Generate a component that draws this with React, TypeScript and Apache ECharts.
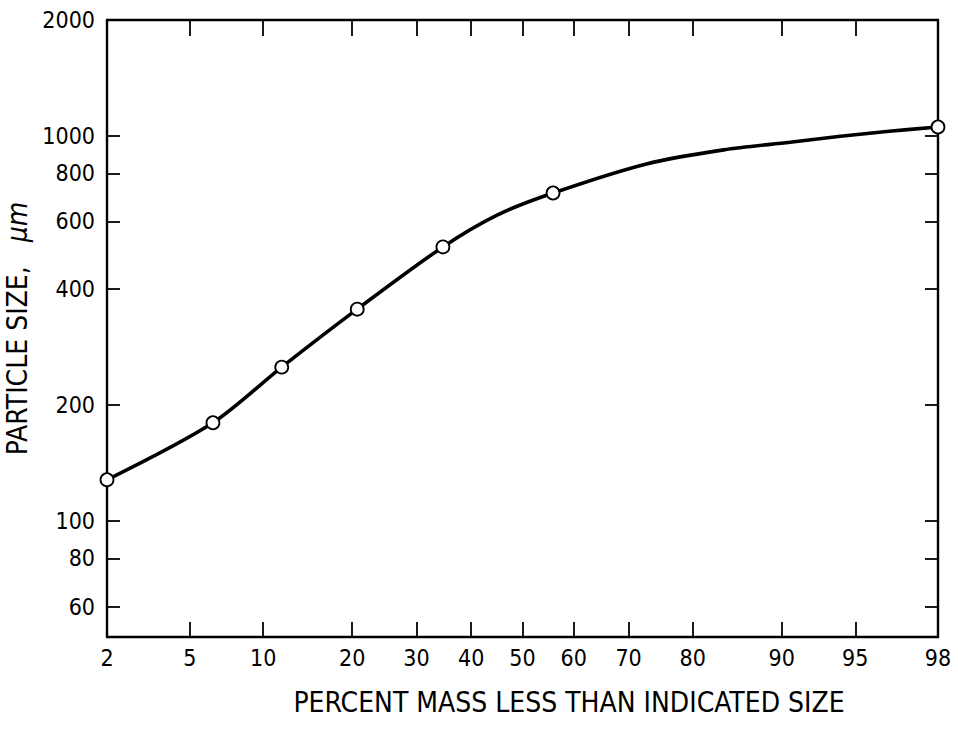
import { useEffect, useRef } from "react";
import * as echarts from "echarts";

// Probability-scale tick positions (percent) and log-scale ticks (micrometres)
const xTickPercents = [2, 5, 10, 20, 30, 40, 50, 60, 70, 80, 90, 95, 98];
const xTopTickPercents = [5, 10, 20, 30, 40, 50, 60, 70, 80, 90, 95];
const yTickSizes = [60, 80, 100, 200, 400, 600, 800, 1000, 2000];

// Measured samples (open circles)
const samplePercent = [2, 6.3, 11.7, 20.7, 34.7, 56, 98];
const sampleSize = [128, 180, 251, 355, 515, 711, 1055];

// Drawn distribution curve
const curvePercent = [2, 6.3, 11.7, 20.7, 34.7, 45, 56, 73, 84, 90.7, 94.2, 96.5, 98];
const curveSize = [128, 180, 251, 355, 515, 623, 711, 846, 920, 963, 998, 1028, 1055];

const X_MIN_PCT = 2;
const X_MAX_PCT = 98;
const Y_MIN = 50;
const Y_MAX = 2000;

const X_TITLE = "PERCENT MASS LESS THAN INDICATED SIZE";
const Y_TITLE = "PARTICLE SIZE,   {u|μm}";

const FONT = "'Liberation Sans Narrow', 'DejaVu Sans Condensed', 'Roboto', sans-serif";

// Inverse standard normal CDF (Acklam's rational approximation)
function probit(p: number): number {
  const a = [-3.969683028665376e1, 2.209460984245205e2, -2.759285104469687e2, 1.38357751867269e2, -3.066479806614716e1, 2.506628277459239];
  const b = [-5.447609879822406e1, 1.615858368580409e2, -1.556989798598866e2, 6.680131188771972e1, -1.328068155288572e1];
  const c = [-7.784894002430293e-3, -3.223964580411365e-1, -2.400758277161838, -2.549732539343734, 4.374664141464968, 2.938163982698783];
  const d = [7.784695709041462e-3, 3.224671290700398e-1, 2.445134137142996, 3.754408661907416];
  const pLow = 0.02425;
  const pHigh = 1 - pLow;
  if (p < pLow) {
    const q = Math.sqrt(-2 * Math.log(p));
    return (((((c[0] * q + c[1]) * q + c[2]) * q + c[3]) * q + c[4]) * q + c[5]) /
      ((((d[0] * q + d[1]) * q + d[2]) * q + d[3]) * q + 1);
  }
  if (p <= pHigh) {
    const q = p - 0.5;
    const r = q * q;
    return ((((((a[0] * r + a[1]) * r + a[2]) * r + a[3]) * r + a[4]) * r + a[5]) * q) /
      (((((b[0] * r + b[1]) * r + b[2]) * r + b[3]) * r + b[4]) * r + 1);
  }
  const q = Math.sqrt(-2 * Math.log(1 - p));
  return -(((((c[0] * q + c[1]) * q + c[2]) * q + c[3]) * q + c[4]) * q + c[5]) /
    ((((d[0] * q + d[1]) * q + d[2]) * q + d[3]) * q + 1);
}

const toX = (pct: number) => probit(pct / 100);
const toY = (size: number) => Math.log10(size);

const xTickVals = xTickPercents.map(toX);
const xTopTickVals = xTopTickPercents.map(toX);
const yTickVals = yTickSizes.map(toY);

const lookup = (vals: number[], labels: number[]) => (v: number) => {
  const i = vals.findIndex((t) => Math.abs(t - v) < 1e-6);
  return i >= 0 ? String(labels[i]) : "";
};

export default function App() {
  const ref = useRef<HTMLDivElement>(null);

  useEffect(() => {
    if (!ref.current) return;
    const chart = echarts.init(ref.current, undefined, { renderer: "svg" });

    const xMin = toX(X_MIN_PCT);
    const xMax = toX(X_MAX_PCT);
    const yMin = toY(Y_MIN);
    const yMax = toY(Y_MAX);

    const frameLine = { show: true, onZero: false, lineStyle: { color: "#000", width: 2.4 } };
    const tickLine = { color: "#000", width: 1.8 };
    const tickLabel = { color: "#000", fontFamily: FONT, fontSize: 23 };

    chart.setOption({
      animation: false,
      backgroundColor: "#fff",
      grid: {
        left: 107,
        right: 20,
        top: 20,
        bottom: 92,
        containLabel: false,
        outerBoundsMode: "none",
      },
      graphic: [
        {
          type: "text",
          x: 569,
          y: 702,
          style: {
            text: X_TITLE,
            fill: "#000",
            font: `28px ${FONT}`,
            textAlign: "center",
            textVerticalAlign: "middle",
          },
        },
      ],
      xAxis: [
        {
          type: "value",
          position: "bottom",
          min: xMin,
          max: xMax,
          splitLine: { show: false },
          axisLine: frameLine,
          axisTick: { show: true, inside: true, length: 15, customValues: xTickVals, lineStyle: tickLine },
          axisLabel: {
            show: true,
            customValues: xTickVals,
            formatter: lookup(xTickVals, xTickPercents),
            margin: 9,
            ...tickLabel,
          },
        },
        {
          type: "value",
          position: "top",
          min: xMin,
          max: xMax,
          splitLine: { show: false },
          axisLine: frameLine,
          axisTick: { show: true, inside: true, length: 16, customValues: xTopTickVals, lineStyle: tickLine },
          axisLabel: { show: false },
        },
      ],
      yAxis: [
        {
          type: "value",
          position: "left",
          min: yMin,
          max: yMax,
          splitLine: { show: false },
          axisLine: frameLine,
          axisTick: { show: true, inside: true, length: 13, customValues: yTickVals, lineStyle: tickLine },
          axisLabel: {
            show: true,
            customValues: yTickVals,
            formatter: lookup(yTickVals, yTickSizes),
            margin: 12,
            ...tickLabel,
          },
          name: Y_TITLE,
          nameLocation: "middle",
          nameRotate: 90,
          nameGap: 71,
          nameTextStyle: {
            color: "#000",
            fontFamily: FONT,
            fontSize: 28,
            rich: {
              u: { color: "#000", fontFamily: FONT, fontSize: 28, fontStyle: "italic" },
            },
          },
        },
        {
          type: "value",
          position: "right",
          min: yMin,
          max: yMax,
          splitLine: { show: false },
          axisLine: frameLine,
          axisTick: { show: true, inside: true, length: 13, customValues: yTickVals, lineStyle: tickLine },
          axisLabel: { show: false },
        },
      ],
      series: [
        {
          type: "line",
          xAxisIndex: 0,
          yAxisIndex: 0,
          data: curvePercent.map((p, i) => [toX(p), toY(curveSize[i])]),
          smooth: 0.3,
          showSymbol: false,
          clip: false,
          lineStyle: { color: "#000", width: 3.6 },
          z: 2,
        },
        {
          type: "scatter",
          xAxisIndex: 0,
          yAxisIndex: 0,
          data: samplePercent.map((p, i) => [toX(p), toY(sampleSize[i])]),
          symbol: "circle",
          symbolSize: 13,
          clip: false,
          itemStyle: { color: "#fff", borderColor: "#000", borderWidth: 1.8, opacity: 1 },
          z: 3,
        },
      ],
    });

    return () => chart.dispose();
  }, []);

  return (
    <div
      ref={ref}
      style={{ position: "absolute", left: 0, top: 0, width: 958, height: 729, background: "#fff" }}
    />
  );
}
